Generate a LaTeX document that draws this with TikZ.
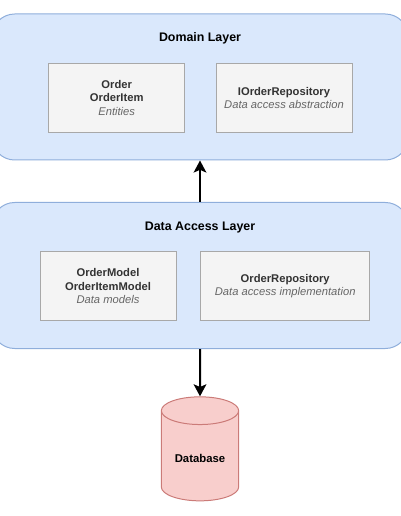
\documentclass[tikz,border=0pt]{standalone}
\usepackage{fontspec}
\setmainfont{Liberation Sans}
\usepackage{xcolor}
\usetikzlibrary{arrows.meta,positioning,shapes.geometric}
\definecolor{layerfill}{HTML}{DAE8FC}
\definecolor{layerline}{HTML}{8FAEDB}
\definecolor{boxfill}{HTML}{F4F4F4}
\definecolor{boxline}{HTML}{A8A8A8}
\definecolor{boxtext}{HTML}{333333}
\definecolor{notetext}{HTML}{666666}
\definecolor{dbfill}{HTML}{F8CECC}
\definecolor{dbline}{HTML}{CB7B78}
\tikzset{
    layerbox/.style={draw=layerline, fill=layerfill, line width=0.75pt, rounded corners=17pt,
        minimum width=312pt, inner sep=0pt},
    layertitle/.style={font=\fontsize{9.3}{10.5}\selectfont\bfseries, text=black, inner sep=0pt},
    partbox/.style={draw=boxline, fill=boxfill, line width=0.75pt, minimum height=52pt,
        align=center, inner sep=0pt, text=boxtext, font=\fontsize{8.4}{9.9}\selectfont},
    link/.style={line width=1.5pt, -{Stealth[length=9pt,width=9.5pt,inset=2pt]}},
}
\newcommand{\classname}[1]{\textbf{#1}}
\newcommand{\classnote}[1]{{\color{notetext}\itshape #1}}

\begin{document}
\begin{tikzpicture}[x=0.75pt,y=-0.75pt]
    \useasboundingbox (0,0) rectangle (400,516);

    % domain layer
    \node[layerbox, minimum height=109.5pt] (domain) at (200,87) {};
    \node[layertitle] (domaintitle) at (200,38.5) {Domain Layer};
    \node[partbox, minimum width=102pt] (entities) at (116.7,97.8)
        {\classname{Order}\\\classname{OrderItem}\\\classnote{Entities}};
    \node[partbox, minimum width=102pt] (irepo) at (284,97.8)
        {\classname{IOrderRepository}\\\classnote{Data access abstraction}};

    % data access layer
    \node[layerbox, minimum height=109.5pt] (access) at (200,275.5) {};
    \node[layertitle] (accesstitle) at (200,227.5) {Data Access Layer};
    \node[partbox, minimum width=102pt] (models) at (108,286)
        {\classname{OrderModel}\\\classname{OrderItemModel}\\\classnote{Data models}};
    \node[partbox, minimum width=127pt] (repo) at (285.2,286)
        {\classname{OrderRepository}\\\classnote{Data access implementation}};

    % database
    \node[draw=dbline, fill=dbfill, line width=0.75pt, cylinder, shape border rotate=90,
        aspect=0.55, minimum width=58pt, minimum height=78pt, inner sep=0pt,
        cylinder uses custom fill, cylinder body fill=dbfill, cylinder end fill=dbfill,
        font=\fontsize{8.5}{10}\selectfont\bfseries] (database) at (200,456)
        {\raisebox{-1.5pt}[\height][\depth]{Database}};

    % arrows
    \draw[link] (access.north) -- (domain.south);
    \draw[link] (access.south) -- (database.north);
\end{tikzpicture}
\end{document}
